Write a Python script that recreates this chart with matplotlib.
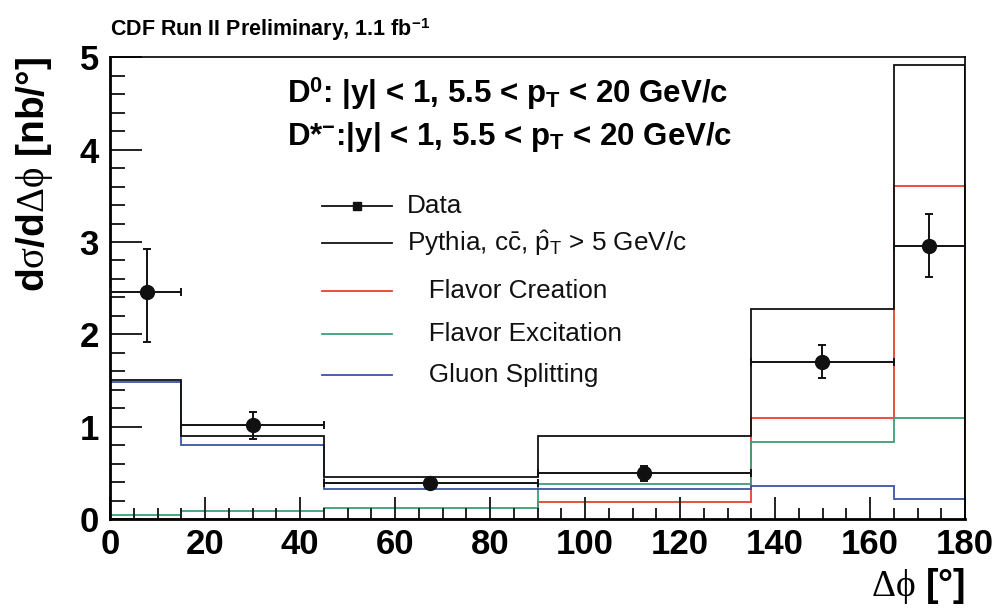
import matplotlib
matplotlib.use('Agg')

import numpy as np
import matplotlib.pyplot as plt
from matplotlib.ticker import MultipleLocator
from matplotlib.lines import Line2D

plt.rcParams['font.family'] = ['Liberation Sans', 'DejaVu Sans']
plt.rcParams['mathtext.fontset'] = 'custom'
plt.rcParams['mathtext.rm'] = 'Liberation Serif'
plt.rcParams['mathtext.it'] = 'Liberation Serif:italic'
plt.rcParams['mathtext.bf'] = 'Liberation Sans:bold'
plt.rcParams['mathtext.sf'] = 'Liberation Sans'

# delta phi binning (degrees)
bin_edges = [0, 15, 45, 90, 135, 165, 180]

# Pythia predictions per bin [nb/deg]
pythia_total = [1.51, 0.90, 0.46, 0.90, 2.28, 4.92]
flavor_creation = [0.0, 0.0, 0.0, 0.19, 1.09, 3.61]
flavor_excitation = [0.05, 0.09, 0.12, 0.38, 0.84, 1.10]
gluon_splitting = [1.48, 0.80, 0.33, 0.33, 0.36, 0.22]

# measured cross section
data_x = [7.8, 30.1, 67.4, 112.5, 149.9, 172.4]
data_y = [2.46, 1.02, 0.39, 0.50, 1.70, 2.96]
data_err_up = [0.46, 0.14, 0.05, 0.08, 0.18, 0.34]
data_err_dn = [0.54, 0.15, 0.05, 0.09, 0.17, 0.34]

red = '#e8402f'
green = '#3d9f78'
blue = '#3b55a5'

fig = plt.figure(figsize=(10, 6.08), dpi=100)
ax = fig.add_axes([0.11, 0.146, 0.855, 0.76])

ax.stairs(flavor_creation, bin_edges, color=red, lw=1.3, clip_on=False)
ax.stairs(flavor_excitation, bin_edges, color=green, lw=1.3)
ax.stairs(gluon_splitting, bin_edges, color=blue, lw=1.3)
ax.stairs(pythia_total, bin_edges, color='#111111', lw=1.3)

# horizontal error bars span the bin
edges = np.array(bin_edges)
xerr = [np.array(data_x) - edges[:-1], edges[1:] - np.array(data_x)]
ax.errorbar(data_x, data_y, yerr=[data_err_dn, data_err_up], xerr=xerr,
            fmt='o', color='#111111', ms=10, elinewidth=1.4, capsize=3,
            capthick=1.4, zorder=5)

ax.set_xlim(0, 180)
ax.set_ylim(0, 5)
ax.xaxis.set_major_locator(MultipleLocator(20))
ax.xaxis.set_minor_locator(MultipleLocator(5))
ax.yaxis.set_major_locator(MultipleLocator(1))
ax.yaxis.set_minor_locator(MultipleLocator(0.2))
ax.tick_params(which='both', direction='in', top=False, right=False,
               width=1.4, color='#222222')
ax.tick_params(axis='x', which='major', length=16, labelsize=25, pad=6)
ax.tick_params(axis='x', which='minor', length=8)
ax.tick_params(axis='y', which='major', length=23, labelsize=25, pad=8)
ax.tick_params(axis='y', which='minor', length=11)
for lab in ax.get_xticklabels() + ax.get_yticklabels():
    lab.set_fontweight('bold')
ax.spines['left'].set_linewidth(2)
ax.spines['bottom'].set_linewidth(2)
ax.spines['top'].set_linewidth(1.2)
ax.spines['right'].set_linewidth(1.2)

ax.set_ylabel(r'd$\mathrm{\sigma}$/d$\mathrm{\Delta\phi}$ [nb/°]',
              fontsize=28, fontweight='bold', loc='top', labelpad=18)
ax.set_xlabel(r'$\mathrm{\Delta\phi}$ [°]', fontsize=27, fontweight='bold',
              loc='right', labelpad=4)

fig.text(0.11, 0.941, r'CDF Run II Preliminary, 1.1 fb$^{\mathbf{-1}}$',
         fontsize=15.5, fontweight='bold', ha='left', va='baseline')

ax.text(0.207, 0.900, r'D$^{\mathbf{0}}$: |y| < 1, 5.5 < p$_{\mathbf{T}}$ < 20 GeV/c',
        transform=ax.transAxes, fontsize=22.5, fontweight='bold', va='baseline')
ax.text(0.207, 0.810, r'D*$^{\mathbf{-}}$:|y| < 1, 5.5 < p$_{\mathbf{T}}$ < 20 GeV/c',
        transform=ax.transAxes, fontsize=22.5, fontweight='bold', va='baseline')

# legend entries
legend_rows = [
    ('Data', '#111111', True, 0.678),
    (r'Pythia, c$\mathsf{\bar{c}}$, $\mathsf{\hat{p}}_{\mathsf{T}}$ > 5 GeV/c', '#111111', False, 0.597),
    ('   Flavor Creation', red, False, 0.494),
    ('   Flavor Excitation', green, False, 0.401),
    ('   Gluon Splitting', blue, False, 0.313),
]
for label, col, marker, yy in legend_rows:
    ax.add_line(Line2D([0.248, 0.330], [yy, yy], transform=ax.transAxes,
                       color=col, lw=1.3))
    if marker:
        ax.plot([0.289], [yy], 's', color=col, ms=6, transform=ax.transAxes)
    ax.text(0.347, yy, label, transform=ax.transAxes, fontsize=18.8,
            va='center', ha='left', color='#111111')

fig.savefig('out.png', dpi=100)
